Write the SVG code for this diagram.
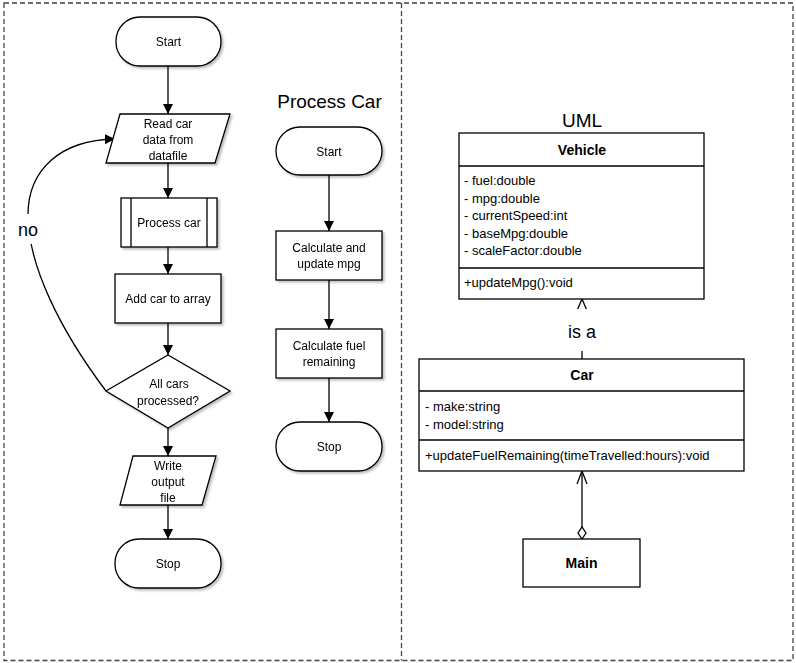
<svg xmlns="http://www.w3.org/2000/svg" width="796" height="663" viewBox="0 0 796 663">
<style>
text{font-family:"Liberation Sans",Arial,Helvetica,sans-serif;fill:#000}
.n{font-size:12px;text-anchor:middle}
.u{font-size:13px}
.b{font-size:14px;font-weight:bold;text-anchor:middle}
.t{font-size:19px;text-anchor:middle}
.l{font-size:18px;text-anchor:middle}
.s{fill:#fff;stroke:#000;stroke-width:1.3}
.c{fill:none;stroke:#000;stroke-width:1.3}
.d{fill:none;stroke:#444;stroke-width:1.3;stroke-dasharray:5 3}
</style>
<defs>
<marker id="ah" viewBox="0 0 10 10" refX="10" refY="5" markerWidth="10" markerHeight="10" markerUnits="userSpaceOnUse" orient="auto">
<path d="M0,0 L10,5 L0,10 z" fill="#000"/>
</marker>
<marker id="oa" viewBox="0 0 14 12" refX="13" refY="6" markerWidth="14" markerHeight="12" markerUnits="userSpaceOnUse" orient="auto">
<path d="M0,1 L13,6 L0,11" fill="none" stroke="#000" stroke-width="1.3"/>
</marker>
<filter id="sh" x="-10%" y="-10%" width="130%" height="140%">
<feDropShadow dx="2" dy="2" stdDeviation="1" flood-color="#000" flood-opacity="0.25"/>
</filter>
</defs>
<rect width="796" height="663" fill="#fff"/>
<g id="frame">
<rect x="4" y="3" width="789" height="657.5" class="d"/>
<line x1="401.5" y1="3" x2="401.5" y2="660.5" class="d"/>
</g>
<g id="connectors">
<line x1="168" y1="66" x2="168" y2="114" class="c" marker-end="url(#ah)"/>
<line x1="168" y1="163" x2="168" y2="198" class="c" marker-end="url(#ah)"/>
<line x1="168" y1="247" x2="168" y2="274" class="c" marker-end="url(#ah)"/>
<line x1="168" y1="323" x2="168" y2="355" class="c" marker-end="url(#ah)"/>
<line x1="168" y1="428" x2="168" y2="456" class="c" marker-end="url(#ah)"/>
<line x1="168" y1="505" x2="168" y2="539" class="c" marker-end="url(#ah)"/>
<path d="M106,391 C60,330 28,265 28,215 C28,170 60,140 115,139" class="c" marker-end="url(#ah)"/>
<rect x="14" y="214" width="30" height="30" fill="#fff"/>
<text x="28" y="236" class="l">no</text>
<line x1="582" y1="359" x2="582" y2="312" class="c"/>
<line x1="329" y1="175" x2="329" y2="231" class="c" marker-end="url(#ah)"/>
<line x1="329" y1="280" x2="329" y2="329" class="c" marker-end="url(#ah)"/>
<line x1="329" y1="378" x2="329" y2="422" class="c" marker-end="url(#ah)"/>
<path d="M576,313 L582,299 L588,313 z" fill="#fff" stroke="#000" stroke-width="1.3"/>
<rect x="558" y="309" width="48" height="42" fill="#fff"/>
<text x="582" y="338" class="l">is a</text>
<line x1="582" y1="527" x2="582" y2="471" class="c" marker-end="url(#oa)"/>
<path d="M582,539 L586,533 L582,527 L578,533 z" fill="#fff" stroke="#000" stroke-width="1.3"/>
</g>
<g id="start1" filter="url(#sh)">
<rect x="116" y="17" width="105" height="49" rx="24" class="s"/>
<text x="168.5" y="46" class="n">Start</text>
</g>
<g id="read" filter="url(#sh)">
<path d="M120,114 L230,114 L215,163 L106,163 z" class="s"/>
<text x="168" y="128" class="n">Read car</text>
<text x="168" y="144" class="n">data from</text>
<text x="168" y="160" class="n">datafile</text>
</g>
<g id="processcar" filter="url(#sh)">
<rect x="121" y="198" width="96" height="49" class="s"/>
<line x1="131" y1="198" x2="131" y2="247" class="c"/>
<line x1="207" y1="198" x2="207" y2="247" class="c"/>
<text x="169" y="227" class="n">Process car</text>
</g>
<g id="addcar" filter="url(#sh)">
<rect x="115" y="274" width="106" height="49" class="s"/>
<text x="168" y="303" class="n">Add car to array</text>
</g>
<g id="decision" filter="url(#sh)">
<path d="M168,355 L230,391 L168,428 L106,391 z" class="s"/>
<text x="169" y="388" class="n">All cars</text>
<text x="168" y="405" class="n">processed?</text>
</g>
<g id="write" filter="url(#sh)">
<path d="M133,456 L216,456 L202,505 L120,505 z" class="s"/>
<text x="168" y="470" class="n">Write</text>
<text x="168" y="486" class="n">output</text>
<text x="168" y="502" class="n">file</text>
</g>
<g id="stop1" filter="url(#sh)">
<rect x="115" y="539" width="106" height="49" rx="24" class="s"/>
<text x="168" y="568" class="n">Stop</text>
</g>
<g id="pctitle">
<text x="329.5" y="108" class="t">Process Car</text>
</g>
<g id="start2" filter="url(#sh)">
<rect x="276" y="127" width="106" height="48" rx="24" class="s"/>
<text x="329" y="156" class="n">Start</text>
</g>
<g id="calcmpg" filter="url(#sh)">
<rect x="276" y="231" width="106" height="49" class="s"/>
<text x="329" y="252" class="n">Calculate and</text>
<text x="329" y="268" class="n">update mpg</text>
</g>
<g id="calcfuel" filter="url(#sh)">
<rect x="276" y="329" width="106" height="49" class="s"/>
<text x="329" y="350" class="n">Calculate fuel</text>
<text x="329" y="366" class="n">remaining</text>
</g>
<g id="stop2" filter="url(#sh)">
<rect x="276" y="422" width="106" height="49" rx="24" class="s"/>
<text x="329" y="451" class="n">Stop</text>
</g>
<g id="umltitle">
<text x="582" y="127" class="t">UML</text>
</g>
<g id="vehicle">
<rect x="459" y="133" width="245" height="166" class="s"/>
<line x1="459" y1="166" x2="704" y2="166" class="c"/>
<line x1="459" y1="268" x2="704" y2="268" class="c"/>
<text x="582" y="155" class="b">Vehicle</text>
<text x="464" y="185" class="u">- fuel:double</text>
<text x="464" y="202.5" class="u">- mpg:double</text>
<text x="464" y="220" class="u">- currentSpeed:int</text>
<text x="464" y="237.5" class="u">- baseMpg:double</text>
<text x="464" y="255" class="u">- scaleFactor:double</text>
<text x="464" y="287" class="u">+updateMpg():void</text>
</g>
<g id="car">
<rect x="419" y="359" width="325" height="112" class="s"/>
<line x1="419" y1="391" x2="744" y2="391" class="c"/>
<line x1="419" y1="440" x2="744" y2="440" class="c"/>
<text x="582" y="380" class="b">Car</text>
<text x="425" y="411" class="u">- make:string</text>
<text x="425" y="428.5" class="u">- model:string</text>
<text x="425" y="460" class="u">+updateFuelRemaining(timeTravelled:hours):void</text>
</g>
<g id="main">
<rect x="523" y="539" width="117" height="48" class="s"/>
<text x="581.5" y="568" class="b">Main</text>
</g>
</svg>
